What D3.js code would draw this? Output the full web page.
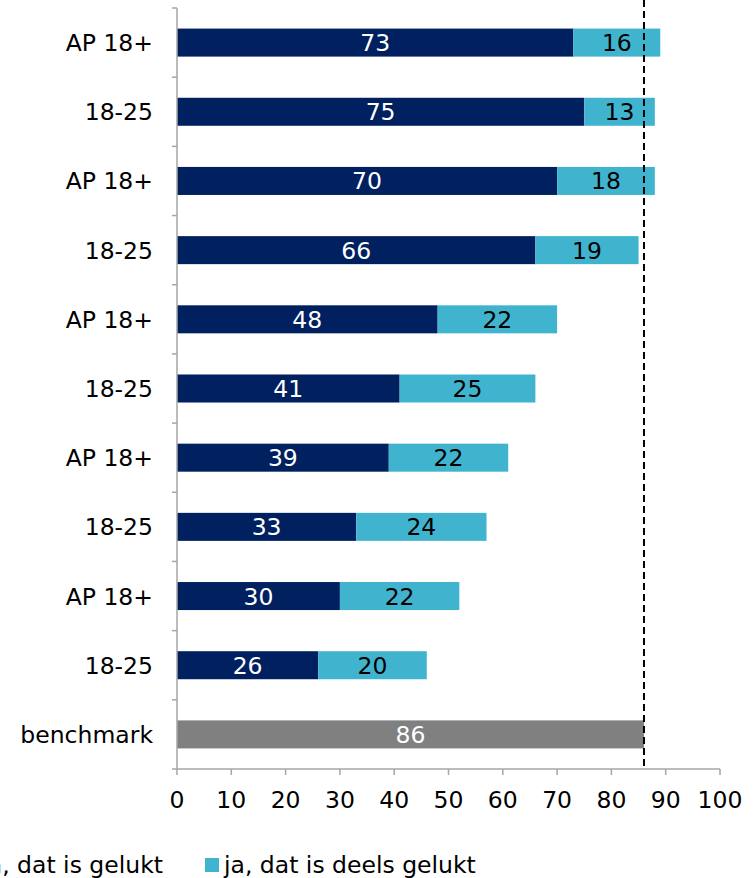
<!DOCTYPE html>
<html><head><meta charset="utf-8">
<script src="https://cdn.jsdelivr.net/npm/d3@7"></script>
<style>body{margin:0;background:#fff}svg{display:block}text{font-family:Verdana,"DejaVu Sans",sans-serif}</style>
</head><body>
<svg id="c" width="753" height="878"></svg>
<script>
const categories = ["AP 18+","18-25","AP 18+","18-25","AP 18+","18-25","AP 18+","18-25","AP 18+","18-25","benchmark"];
const gelukt = [73,75,70,66,48,41,39,33,30,26,null];
const deels = [16,13,18,19,22,25,22,24,22,20,null];
const benchmark = [null,null,null,null,null,null,null,null,null,null,86];
const xTicks = [0,10,20,30,40,50,60,70,80,90,100];
const legendLabels = ["ja, dat is gelukt","ja, dat is deels gelukt"];
const benchmarkLine = 86;

(function(){
const colors = {gelukt:"#002060", deels:"#40B4CF", bench:"#808080", axis:"#a6a6a6"};
const fs = 23.5;
const svg = d3.select("#c");
const mLeft = 177, mRight = 720, mTop = 8, mBottom = 769;
const x = d3.scaleLinear().domain([0,100]).range([mLeft,mRight]);
const idx = categories.map((d,i)=>i);
const y = d3.scaleBand().domain(idx).range([mTop,mBottom]).paddingInner(0.595).paddingOuter(0.2975);

const g = svg.append("g");
idx.forEach(i=>{
  const segs = [];
  if (gelukt[i]!=null) segs.push({v0:0,v1:gelukt[i],c:colors.gelukt,t:"#fff",val:gelukt[i]});
  if (deels[i]!=null) segs.push({v0:gelukt[i],v1:gelukt[i]+deels[i],c:colors.deels,t:"#000",val:deels[i]});
  if (benchmark[i]!=null) segs.push({v0:0,v1:benchmark[i],c:colors.bench,t:"#fff",val:benchmark[i]});
  segs.forEach(s=>{
    g.append("rect").attr("x",x(s.v0)).attr("y",y(i)).attr("width",x(s.v1)-x(s.v0)).attr("height",y.bandwidth()).attr("fill",s.c);
    g.append("text").attr("x",(x(s.v0)+x(s.v1))/2).attr("y",y(i)+y.bandwidth()/2).attr("dy","0.36em")
      .attr("text-anchor","middle").attr("font-size",fs).attr("fill",s.t).text(s.val);
  });
});

const ya = svg.append("g");
ya.append("line").attr("x1",mLeft).attr("x2",mLeft).attr("y1",mTop).attr("y2",mBottom).attr("stroke",colors.axis).attr("stroke-width",1.5);
d3.range(categories.length+1).forEach(k=>{
  const yy = mTop + k*(mBottom-mTop)/categories.length;
  ya.append("line").attr("x1",mLeft-5).attr("x2",mLeft).attr("y1",yy).attr("y2",yy).attr("stroke",colors.axis).attr("stroke-width",1.5);
});
idx.forEach(i=>{
  ya.append("text").attr("x",153).attr("y",y(i)+y.bandwidth()/2).attr("dy","0.36em").attr("text-anchor","end")
    .attr("font-size",fs).attr("fill","#000").text(categories[i]);
});

const xa = svg.append("g");
xa.append("line").attr("x1",mLeft).attr("x2",mRight).attr("y1",mBottom).attr("y2",mBottom).attr("stroke",colors.axis).attr("stroke-width",1.5);
xTicks.forEach(t=>{
  xa.append("line").attr("x1",x(t)).attr("x2",x(t)).attr("y1",mBottom).attr("y2",mBottom+6).attr("stroke",colors.axis).attr("stroke-width",1.5);
  xa.append("text").attr("x",x(t)).attr("y",mBottom+31).attr("dy","0.36em").attr("text-anchor","middle").attr("font-size",fs).attr("fill","#000").text(t);
});

svg.append("line").attr("x1",x(benchmarkLine)).attr("x2",x(benchmarkLine)).attr("y1",0).attr("y2",mBottom)
  .attr("stroke","#000").attr("stroke-width",2).attr("stroke-dasharray","7,4");

const ly = 865;
const leg = svg.append("g");
leg.append("text").attr("x",163).attr("y",ly).attr("dy","0.36em").attr("text-anchor","end").attr("font-size",fs).text(legendLabels[0]);
leg.append("rect").attr("x",-40).attr("y",ly-7).attr("width",14).attr("height",14).attr("fill",colors.gelukt);
leg.append("rect").attr("x",205).attr("y",ly-7).attr("width",14).attr("height",14).attr("fill",colors.deels);
leg.append("text").attr("x",224).attr("y",ly).attr("dy","0.36em").attr("font-size",fs).text(legendLabels[1]);
})();
</script>
</body></html>
